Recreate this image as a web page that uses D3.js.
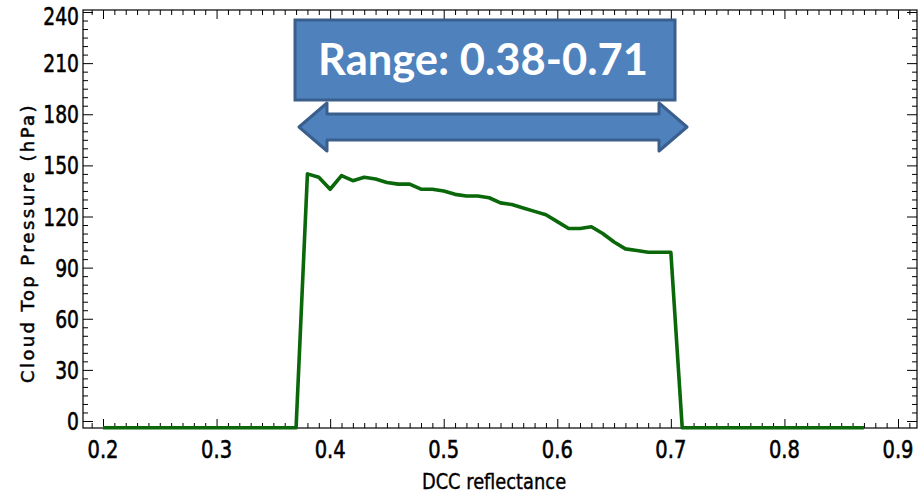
<!DOCTYPE html>
<html>
<head>
<meta charset="utf-8">
<script src="https://cdn.jsdelivr.net/npm/d3@7"></script>
<style>
  html, body { margin: 0; padding: 0; background: #fff; }
  svg { display: block; }
</style>
</head>
<body>
<svg id="chart" width="918" height="495"></svg>
<script>
// ---- data ----
const reflectance = [0.20,0.21,0.22,0.23,0.24,0.25,0.26,0.27,0.28,0.29,0.30,0.31,0.32,0.33,0.34,0.35,0.36,0.37,
  0.38,0.39,0.40,0.41,0.42,0.43,0.44,0.45,0.46,0.47,0.48,0.49,0.50,0.51,0.52,0.53,0.54,0.55,0.56,0.57,0.58,0.59,
  0.60,0.61,0.62,0.63,0.64,0.65,0.66,0.67,0.68,0.69,0.70,
  0.71,0.72,0.73,0.74,0.75,0.76,0.77,0.78,0.79,0.80,0.81,0.82,0.83,0.84,0.85,0.86,0.87];
const pressure = [-4,-4,-4,-4,-4,-4,-4,-4,-4,-4,-4,-4,-4,-4,-4,-4,-4,-4,
  145,143,136,144,141,143,142,140,139,139,136,136,135,133,132,132,131,128,127,125,123,121,
  117,113,113,114,110,105,101,100,99,99,99,
  -4,-4,-4,-4,-4,-4,-4,-4,-4,-4,-4,-4,-4,-4,-4,-4,-4];
const xTickLabels = ["0.2","0.3","0.4","0.5","0.6","0.7","0.8","0.9"];
const xTickValues = [0.2,0.3,0.4,0.5,0.6,0.7,0.8,0.9];
const yTickLabels = ["0","30","60","90","120","150","180","210","240"];
const yTickValues = [0,30,60,90,120,150,180,210,240];
const rangeText = "Range: 0.38-0.71";
const xTitle = "DCC reflectance";
const yTitle = "Cloud Top Pressure (hPa)";

// ---- layout ----
const frame = {left: 83, right: 917, top: 10, bottom: 428};
const svg = d3.select("#chart");

const x0 = d3.scaleLinear().domain([0.2, 0.9]).range([103, 898]);
const x = d3.scaleLinear().domain([x0.invert(frame.left), x0.invert(frame.right)]).range([frame.left, frame.right]);
const y0 = d3.scaleLinear().domain([0, 240]).range([421, 12]);
const y = d3.scaleLinear().domain([y0.invert(frame.bottom), y0.invert(frame.top)]).range([frame.bottom, frame.top]);

const tickFont = "'DejaVu Sans','Liberation Sans',sans-serif";

// minor ticks
const xMinor = d3.range(19, 92).map(d => d / 100).filter(d => !xTickValues.some(v => Math.abs(v - d) < 1e-9));
const yMinor = d3.range(0, 241, 5).filter(d => d % 30 !== 0);

function styleAxis(g) {
  g.select(".domain").remove();
  g.selectAll("line").attr("stroke", "#000").attr("stroke-width", 1);
}

// bottom
svg.append("g").attr("transform", `translate(0,${frame.bottom})`)
  .call(d3.axisTop(x).tickValues(xTickValues).tickSize(9).tickFormat(""))
  .call(styleAxis);
svg.append("g").attr("transform", `translate(0,${frame.bottom})`)
  .call(d3.axisTop(x).tickValues(xMinor).tickSize(5).tickFormat(""))
  .call(styleAxis);
// top
svg.append("g").attr("transform", `translate(0,${frame.top})`)
  .call(d3.axisBottom(x).tickValues(xTickValues).tickSize(9).tickFormat(""))
  .call(styleAxis);
svg.append("g").attr("transform", `translate(0,${frame.top})`)
  .call(d3.axisBottom(x).tickValues(xMinor).tickSize(5).tickFormat(""))
  .call(styleAxis);
// left
svg.append("g").attr("transform", `translate(${frame.left},0)`)
  .call(d3.axisRight(y).tickValues(yTickValues).tickSize(10).tickFormat(""))
  .call(styleAxis);
svg.append("g").attr("transform", `translate(${frame.left},0)`)
  .call(d3.axisRight(y).tickValues(yMinor).tickSize(5).tickFormat(""))
  .call(styleAxis);
// right
svg.append("g").attr("transform", `translate(${frame.right},0)`)
  .call(d3.axisLeft(y).tickValues(yTickValues).tickSize(10).tickFormat(""))
  .call(styleAxis);
svg.append("g").attr("transform", `translate(${frame.right},0)`)
  .call(d3.axisLeft(y).tickValues(yMinor).tickSize(5).tickFormat(""))
  .call(styleAxis);

// frame
svg.append("rect")
  .attr("x", frame.left).attr("y", frame.top)
  .attr("width", frame.right - frame.left).attr("height", frame.bottom - frame.top)
  .attr("fill", "none").attr("stroke", "#000").attr("stroke-width", 1.2);

// tick labels (condensed, heavy, IDL-like)
svg.append("g").selectAll("text").data(xTickValues).join("text")
  .attr("transform", d => `translate(${x(d)},458) scale(0.78,1)`)
  .attr("text-anchor", "middle")
  .attr("font-family", tickFont).attr("font-size", 25)
  .attr("fill", "#000").attr("stroke", "#000").attr("stroke-width", 0.6)
  .text((d, i) => xTickLabels[i]);

svg.append("g").selectAll("text").data(yTickValues).join("text")
  .attr("transform", d => `translate(79,${Math.max(y(d) + 9, 25)}) scale(0.78,1)`)
  .attr("text-anchor", "end")
  .attr("font-family", tickFont).attr("font-size", 24)
  .attr("fill", "#000").attr("stroke", "#000").attr("stroke-width", 0.6)
  .text((d, i) => yTickLabels[i]);

// axis titles
svg.append("text")
  .attr("transform", `translate(494,489) scale(0.85,1)`)
  .attr("text-anchor", "middle")
  .attr("font-family", tickFont).attr("font-size", 21)
  .attr("fill", "#000").attr("stroke", "#000").attr("stroke-width", 0.4)
  .text(xTitle);

svg.append("text")
  .attr("transform", `translate(34,243) rotate(-90)`)
  .attr("text-anchor", "middle")
  .attr("font-family", tickFont).attr("font-size", 18)
  .attr("letter-spacing", 2.4)
  .attr("fill", "#000").attr("stroke", "#000").attr("stroke-width", 0.5)
  .text(yTitle);

// data line
const line = d3.line().x((d, i) => x(reflectance[i])).y(d => y(d));
svg.append("path")
  .datum(pressure)
  .attr("d", line)
  .attr("fill", "none")
  .attr("stroke", "#0a670a")
  .attr("stroke-width", 3.6)
  .attr("stroke-linejoin", "round");

// annotation box
const boxL = 295, boxR = 675, boxT = 20, boxB = 100;
svg.append("rect")
  .attr("x", boxL).attr("y", boxT).attr("width", boxR - boxL).attr("height", boxB - boxT)
  .attr("fill", "#4f81bd").attr("stroke", "#3a5f8d").attr("stroke-width", 3);
const label = svg.append("text")
  .attr("x", (boxL + boxR) / 2 - 2).attr("y", 75)
  .attr("text-anchor", "middle")
  .attr("font-family", "Lato,'Open Sans',sans-serif").attr("font-weight", "bold")
  .attr("font-size", 40)
  .attr("fill", "#fff")
  .text(rangeText);
const w = label.node().getComputedTextLength();
label.attr("font-size", 40 * 330 / w);

// double arrow
const aL = 299, aR = 687, aMid = 127, headIn = 28, headH = 24, shaftH = 13;
const pts = [
  [aL, aMid], [aL + headIn, aMid - headH], [aL + headIn, aMid - shaftH],
  [aR - headIn, aMid - shaftH], [aR - headIn, aMid - headH], [aR, aMid],
  [aR - headIn, aMid + headH], [aR - headIn, aMid + shaftH],
  [aL + headIn, aMid + shaftH], [aL + headIn, aMid + headH]
];
svg.append("path")
  .attr("d", "M" + pts.map(p => p.join(",")).join("L") + "Z")
  .attr("fill", "#4f81bd").attr("stroke", "#3a5f8d").attr("stroke-width", 3)
  .attr("stroke-linejoin", "round");
</script>
</body>
</html>
